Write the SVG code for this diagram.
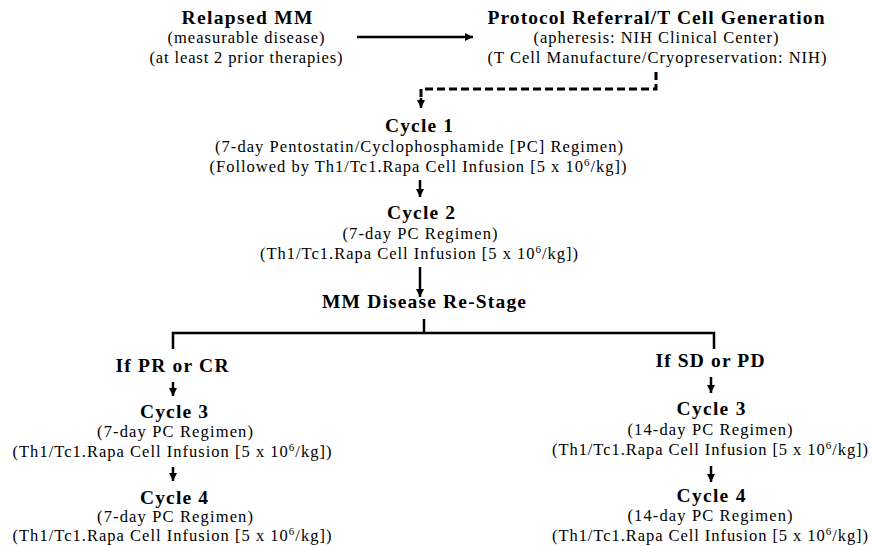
<svg xmlns="http://www.w3.org/2000/svg" width="872" height="546" viewBox="0 0 872 546">
<style>
text{font-family:"Liberation Serif","Times New Roman",serif;fill:#000;text-anchor:middle}
.t{font-weight:bold;font-size:19.5px}
.s{font-size:16.5px}
.sup{font-size:11px}
.ln{fill:none;stroke:#000;stroke-width:2.5}
.ds{fill:none;stroke:#000;stroke-width:3;stroke-dasharray:8 4}
</style>
<defs>
<marker id="ah" viewBox="0 0 10 10" refX="10" refY="5" markerWidth="8" markerHeight="8" markerUnits="userSpaceOnUse" orient="auto">
<path d="M0,0 L10,5 L0,10 Z" fill="#000"/>
</marker>
</defs>
<rect width="872" height="546" fill="#fff"/>
<g id="connectors">
<path class="ln" d="M357 37 H473" marker-end="url(#ah)"/>
<path class="ds" d="M656 72 V89 H421 V98"/>
<path class="ln" d="M421 98 V108" marker-end="url(#ah)"/>
<path class="ln" d="M420 180 V197" marker-end="url(#ah)"/>
<path class="ln" d="M420 267 V297" marker-end="url(#ah)"/>
<path class="ln" d="M424 319 V333"/>
<path class="ln" d="M173 349 V333 H714 V349"/>
<path class="ln" d="M173 382 V396" marker-end="url(#ah)"/>
<path class="ln" d="M173 467 V481" marker-end="url(#ah)"/>
<path class="ln" d="M711 377 V393" marker-end="url(#ah)"/>
<path class="ln" d="M711 466 V482" marker-end="url(#ah)"/>
</g>
<g id="relapsed">
<text class="t" x="247" y="24" textLength="131" lengthAdjust="spacing">Relapsed MM</text>
<text class="s" x="246" y="43" textLength="157" lengthAdjust="spacing">(measurable disease)</text>
<text class="s" x="246" y="63" textLength="193" lengthAdjust="spacing">(at least 2 prior therapies)</text>
</g>
<g id="protocol">
<text class="t" x="656" y="24" textLength="337" lengthAdjust="spacing">Protocol Referral/T Cell Generation</text>
<text class="s" x="656" y="43" textLength="245" lengthAdjust="spacing">(apheresis: NIH Clinical Center)</text>
<text class="s" x="657" y="63" textLength="339" lengthAdjust="spacing">(T Cell Manufacture/Cryopreservation: NIH)</text>
</g>
<g id="cycle1">
<text class="t" x="419" y="132" textLength="68" lengthAdjust="spacing">Cycle 1</text>
<text class="s" x="419" y="152" textLength="408" lengthAdjust="spacing">(7-day Pentostatin/Cyclophosphamide [PC] Regimen)</text>
<text class="s" x="418" y="172" textLength="417" lengthAdjust="spacing">(Followed by Th1/Tc1.Rapa Cell Infusion [5 x 10<tspan class="sup" dy="-6">6</tspan><tspan dy="6">/kg])</tspan></text>
</g>
<g id="cycle2">
<text class="t" x="421" y="219" textLength="68" lengthAdjust="spacing">Cycle 2</text>
<text class="s" x="420" y="239" textLength="155" lengthAdjust="spacing">(7-day PC Regimen)</text>
<text class="s" x="419" y="259" textLength="318" lengthAdjust="spacing">(Th1/Tc1.Rapa Cell Infusion [5 x 10<tspan class="sup" dy="-6">6</tspan><tspan dy="6">/kg])</tspan></text>
</g>
<g id="restage">
<text class="t" x="424" y="308" textLength="204" lengthAdjust="spacing">MM Disease Re-Stage</text>
</g>
<g id="prcr">
<text class="t" x="172" y="372" textLength="113" lengthAdjust="spacing">If PR or CR</text>
</g>
<g id="cycle3-left">
<text class="t" x="174" y="418" textLength="68" lengthAdjust="spacing">Cycle 3</text>
<text class="s" x="175" y="437" textLength="156" lengthAdjust="spacing">(7-day PC Regimen)</text>
<text class="s" x="172" y="457" textLength="319" lengthAdjust="spacing">(Th1/Tc1.Rapa Cell Infusion [5 x 10<tspan class="sup" dy="-6">6</tspan><tspan dy="6">/kg])</tspan></text>
</g>
<g id="cycle4-left">
<text class="t" x="174" y="504" textLength="68" lengthAdjust="spacing">Cycle 4</text>
<text class="s" x="175" y="522" textLength="156" lengthAdjust="spacing">(7-day PC Regimen)</text>
<text class="s" x="172" y="541" textLength="319" lengthAdjust="spacing">(Th1/Tc1.Rapa Cell Infusion [5 x 10<tspan class="sup" dy="-6">6</tspan><tspan dy="6">/kg])</tspan></text>
</g>
<g id="sdpd">
<text class="t" x="710" y="367" textLength="109" lengthAdjust="spacing">If SD or PD</text>
</g>
<g id="cycle3-right">
<text class="t" x="711" y="415" textLength="69" lengthAdjust="spacing">Cycle 3</text>
<text class="s" x="710" y="435" textLength="165" lengthAdjust="spacing">(14-day PC Regimen)</text>
<text class="s" x="710" y="455" textLength="316" lengthAdjust="spacing">(Th1/Tc1.Rapa Cell Infusion [5 x 10<tspan class="sup" dy="-6">6</tspan><tspan dy="6">/kg])</tspan></text>
</g>
<g id="cycle4-right">
<text class="t" x="711" y="502" textLength="69" lengthAdjust="spacing">Cycle 4</text>
<text class="s" x="710" y="521" textLength="165" lengthAdjust="spacing">(14-day PC Regimen)</text>
<text class="s" x="710" y="541" textLength="316" lengthAdjust="spacing">(Th1/Tc1.Rapa Cell Infusion [5 x 10<tspan class="sup" dy="-6">6</tspan><tspan dy="6">/kg])</tspan></text>
</g>
</svg>
